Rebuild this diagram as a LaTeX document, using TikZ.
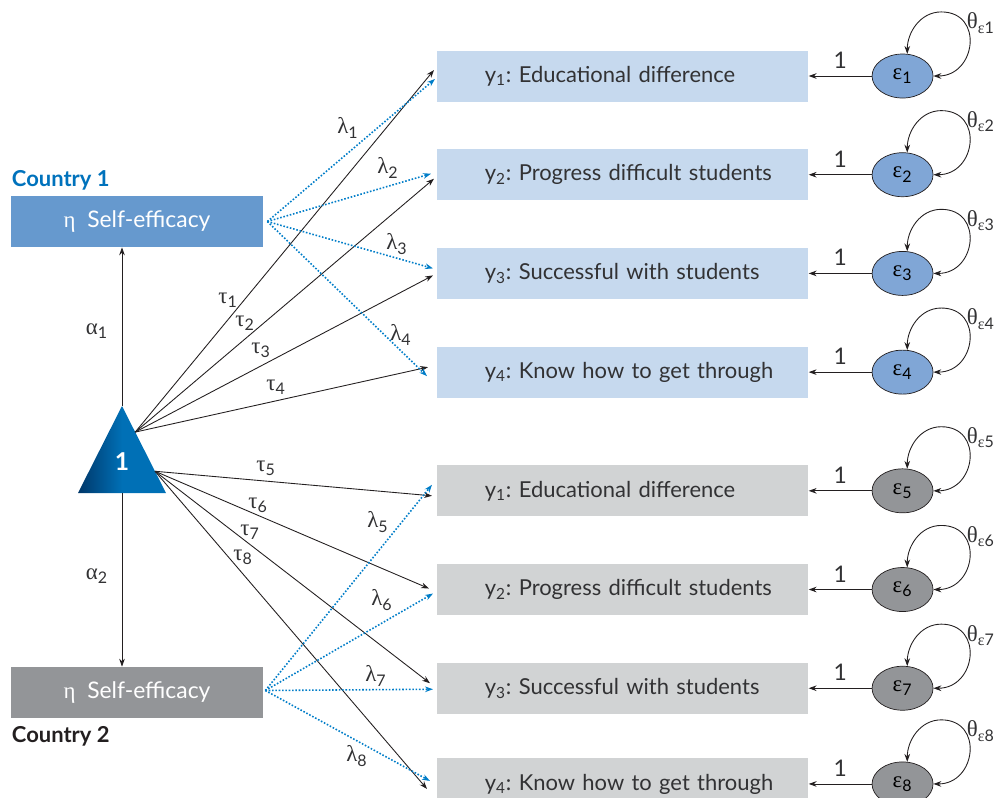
\documentclass[tikz,border=0pt]{standalone}
\usepackage{fontspec}
\setmainfont{Lato}
\newfontfamily\grk{Liberation Serif}
\usepackage{tikz}
\usetikzlibrary{arrows.meta,positioning,calc,shapes.geometric}
\definecolor{ctryblue}{RGB}{0,114,188}
\definecolor{latblue}{RGB}{102,153,206}
\definecolor{latgray}{RGB}{147,149,152}
\definecolor{indblue}{RGB}{198,217,238}
\definecolor{indgray}{RGB}{209,211,212}
\definecolor{errblue}{RGB}{128,166,214}
\definecolor{txtgray}{RGB}{50,50,52}
\definecolor{lineblk}{RGB}{35,31,32}
\definecolor{dotblue}{RGB}{0,125,200}
\definecolor{tridark}{RGB}{0,55,105}
\definecolor{trimid}{RGB}{0,112,182}
\newcommand{\gk}[1]{{\grk #1}}
\newcommand{\sbs}[1]{\textsubscript{#1}}
\newcommand{\ytxt}[2]{\mbox{y\sbs{#1}: #2}}
\frenchspacing

\begin{document}
\begin{tikzpicture}[
    x=0.2mm, y=-0.2mm,
    >={Stealth[length=4.5pt,width=3.2pt]},
    node distance=0.94cm,
    latent/.style={fill=latblue, text=white, minimum width=5.04cm, minimum height=1.02cm, inner sep=0pt, font=\fontsize{13}{15}\selectfont},
    ind/.style={fill=indblue, text=txtgray, minimum height=1.02cm, text width=5.52cm, inner xsep=0.95cm, inner ysep=0pt, align=left, font=\fontsize{12.5}{14}\selectfont},
    err/.style={ellipse, draw=lineblk, fill=errblue, minimum width=1.22cm, minimum height=0.88cm, inner sep=0pt, font=\fontsize{13}{15}\selectfont},
    ctry/.style={inner sep=0pt, font=\bfseries\fontsize{12.5}{14}\selectfont},
    tau/.style={->, draw=lineblk, line width=0.5pt},
    lam/.style={->, draw=dotblue, densely dotted, line width=0.9pt},
    lbl/.style={inner sep=0pt, text=txtgray, font=\fontsize{13}{15}\selectfont}
]
\useasboundingbox (0,0) rectangle (995,797);

% latent factors
\node[latent] (eta1) at (137,221.5) {\gk{η}\ \ Self-efficacy};
\node[latent, fill=latgray] (eta2) at (137,692.5) {\gk{η}\ \ Self-efficacy};
\node[ctry, text=ctryblue, anchor=base west] (c1) at ($(eta1.north west)+(1,-9)$) {Country 1};
\node[ctry, text=lineblk, anchor=base west] (c2) at ($(eta2.south west)+(1,24)$) {Country 2};

% mean structure
\coordinate (tA) at (122,406);
\coordinate (tL) at (78,493);
\coordinate (tR) at (166,493);
\shade[left color=tridark, right color=trimid, middle color=trimid] (tA) -- (tR) -- (tL) -- cycle;
\node[text=white, font=\bfseries\fontsize{14}{16}\selectfont] (one) at (122,462) {1};
\coordinate (tUp) at ($(tA)!0.3!(tR)$);
\coordinate (tDn) at ($(tA)!0.75!(tR)$);
\coordinate (tB) at ($(tL)!0.5!(tR)$);

% indicators
\node[ind, anchor=west] (y1) at (437,76) {\ytxt{1}{Educational difference}};
\node[ind, below=of y1] (y2) {\ytxt{2}{Progress difficult students}};
\node[ind, below=of y2] (y3) {\ytxt{3}{Successful with students}};
\node[ind, below=of y3] (y4) {\ytxt{4}{Know how to get through}};
\node[ind, fill=indgray, below=1.34cm of y4] (y5) {\ytxt{1}{Educational difference}};
\node[ind, fill=indgray, below=of y5] (y6) {\ytxt{2}{Progress difficult students}};
\node[ind, fill=indgray, below=of y6] (y7) {\ytxt{3}{Successful with students}};
\node[ind, fill=indgray, below=0.88cm of y7] (y8) {\ytxt{4}{Know how to get through}};

% residuals
\foreach \i in {1,...,8}{
  \ifnum\i>4 \def\ec{latgray}\else\def\ec{errblue}\fi
  \node[err, fill=\ec, right=1.26cm of y\i] (e\i) {\gk{ε}\sbs{\i}};
  \draw[->, lineblk, line width=0.5pt] (e\i) -- node[lbl, above=4pt] {1} (y\i);
  \draw[<->, lineblk, line width=0.5pt] (e\i.78) to[out=90,in=180] ++(34,-42)
      to[out=0,in=0,looseness=1.7] (e\i.east);
  \node[lbl, anchor=west] (th\i) at ($(e\i.center)+(64,-53)$) {\gk{θ}\sbs{\gk{ε}\i}};
}

% intercepts
\draw[tau] (tA) -- (tA |- eta1.south);
\draw[tau] (tB) -- (tB |- eta2.north);
\node[lbl] (a1) at (97,331) {\gk{α}\sbs{1}};
\node[lbl] (a2) at (97,576) {\gk{α}\sbs{2}};

\draw[tau] (tUp) -- ($(y1.west)+(-3,-6)$);
\draw[tau] (tUp) -- ($(y2.west)+(-3,4)$);
\draw[tau] (tUp) -- ($(y3.west)+(-4,2)$);
\draw[tau] (tUp) -- ($(y4.west)+(-9,-5)$);
\draw[tau] (tDn) -- ($(y5.west)+(-5,5)$);
\draw[tau] (tDn) -- ($(y6.west)+(-8,-1)$);
\draw[tau] (tDn) -- ($(y7.west)+(-7,-5)$);
\draw[tau] (tDn) -- ($(y8.west)+(-10,5)$);

% loadings
\draw[lam] ($(eta1.east)+(4,0)$) -- ($(y1.west)+(-2,3)$);
\draw[lam] ($(eta1.east)+(4,0)$) -- ($(y2.west)+(-6,-1)$);
\draw[lam] ($(eta1.east)+(4,0)$) -- ($(y3.west)+(-4,-5)$);
\draw[lam] ($(eta1.east)+(4,0)$) -- ($(y4.west)+(-10,4)$);
\draw[lam] ($(eta2.east)+(2,-2)$) -- ($(y5.west)+(-5,-6)$);
\draw[lam] ($(eta2.east)+(2,-2)$) -- ($(y6.west)+(-4,4)$);
\draw[lam] ($(eta2.east)+(2,-2)$) -- ($(y7.west)+(-4,1)$);
\draw[lam] ($(eta2.east)+(2,-2)$) -- ($(y8.west)+(-7,-3)$);

% labels
\node[lbl] (t1) at (228,300) {\gk{τ}\sbs{1}};
\node[lbl] (t2) at (245,323) {\gk{τ}\sbs{2}};
\node[lbl] (t3) at (261,350) {\gk{τ}\sbs{3}};
\node[lbl] (t4) at (276,387) {\gk{τ}\sbs{4}};
\node[lbl] (t5) at (266,468) {\gk{τ}\sbs{5}};
\node[lbl] (t6) at (258,505) {\gk{τ}\sbs{6}};
\node[lbl] (t7) at (250,532) {\gk{τ}\sbs{7}};
\node[lbl] (t8) at (243,557) {\gk{τ}\sbs{8}};
\node[lbl] (l1) at (348,128) {\gk{λ}\sbs{1}};
\node[lbl] (l2) at (388,168) {\gk{λ}\sbs{2}};
\node[lbl] (l3) at (397,244) {\gk{λ}\sbs{3}};
\node[lbl] (l4) at (401,335) {\gk{λ}\sbs{4}};
\node[lbl] (l5) at (378,522) {\gk{λ}\sbs{5}};
\node[lbl] (l6) at (382,600) {\gk{λ}\sbs{6}};
\node[lbl] (l7) at (376,676) {\gk{λ}\sbs{7}};
\node[lbl] (l8) at (357,756) {\gk{λ}\sbs{8}};
\end{tikzpicture}
\end{document}
